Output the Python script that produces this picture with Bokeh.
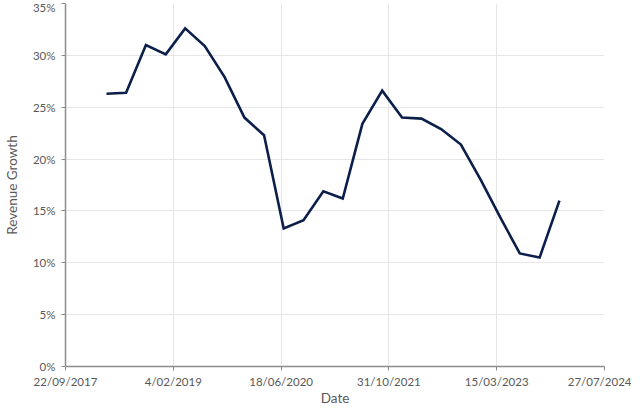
import pandas as pd
from bokeh.plotting import figure
from bokeh.models import FixedTicker, NumeralTickFormatter, Range1d
from bokeh.embed import file_html
from bokeh.resources import INLINE

# Data
dates = pd.date_range("2018-03-31", periods=24, freq="QE")
growth = [26.3, 26.4, 31.0, 30.1, 32.6, 30.9, 27.9, 24.0, 22.3, 13.3, 14.1, 16.9,
          16.2, 23.4, 26.6, 24.0, 23.9, 22.9, 21.4, 18.0, 14.4, 10.9, 10.5, 16.0]
tick_dates = ["2017-09-22", "2019-02-04", "2020-06-18", "2021-10-31", "2023-03-15", "2024-07-27"]
tick_labels = ["22/09/2017", "4/02/2019", "18/06/2020", "31/10/2021", "15/03/2023", "27/07/2024"]
y_ticks = [0, 0.05, 0.10, 0.15, 0.20, 0.25, 0.30, 0.35]

epoch = pd.Timestamp("1970-01-01")
x_days = [(d - epoch).days for d in dates]
tick_days = [(pd.Timestamp(t) - epoch).days for t in tick_dates]
y_vals = [g / 100 for g in growth]

FONT = "Lato"
GRAY = "#595959"

p = figure(frame_width=539, frame_height=363, output_backend="svg", toolbar_location=None,
           x_range=Range1d(tick_days[0], tick_days[-1]), y_range=Range1d(0, 0.35),
           min_border_left=58, min_border_right=27, min_border_top=3, min_border_bottom=30)
p.outline_line_color = None

p.line(x_days, y_vals, line_color="#0c1f4b", line_width=2.6, line_join="miter")

p.xaxis.ticker = FixedTicker(ticks=tick_days)
p.xaxis.major_label_overrides = {d: l for d, l in zip(tick_days, tick_labels)}
p.yaxis.ticker = FixedTicker(ticks=y_ticks)
p.yaxis.formatter = NumeralTickFormatter(format="0%")

for ax in (p.xaxis, p.yaxis):
    ax.axis_line_color = "#8c8c8c"
    ax.axis_line_width = 1.5
    ax.major_tick_line_color = "#8c8c8c"
    ax.major_tick_in = 0
    ax.major_tick_out = 4
    ax.minor_tick_line_color = None
    ax.major_label_text_font = FONT
    ax.major_label_text_font_size = "11.5px"
    ax.major_label_text_color = GRAY
    ax.axis_label_text_font = FONT
    ax.axis_label_text_font_size = "13.5px"
    ax.axis_label_text_color = GRAY
    ax.axis_label_text_font_style = "normal"

p.xaxis.axis_label = "Date"
p.yaxis.axis_label = "Revenue Growth"
p.xaxis.major_label_standoff = 4
p.xaxis.axis_label_standoff = -1
p.yaxis.major_label_standoff = 6
p.yaxis.axis_label_standoff = 10

p.xgrid.ticker = FixedTicker(ticks=tick_days)
p.ygrid.ticker = FixedTicker(ticks=y_ticks)
p.grid.grid_line_color = "#e6e6e6"
p.grid.grid_line_width = 1

open("out.html", "w").write(file_html(p, INLINE))
